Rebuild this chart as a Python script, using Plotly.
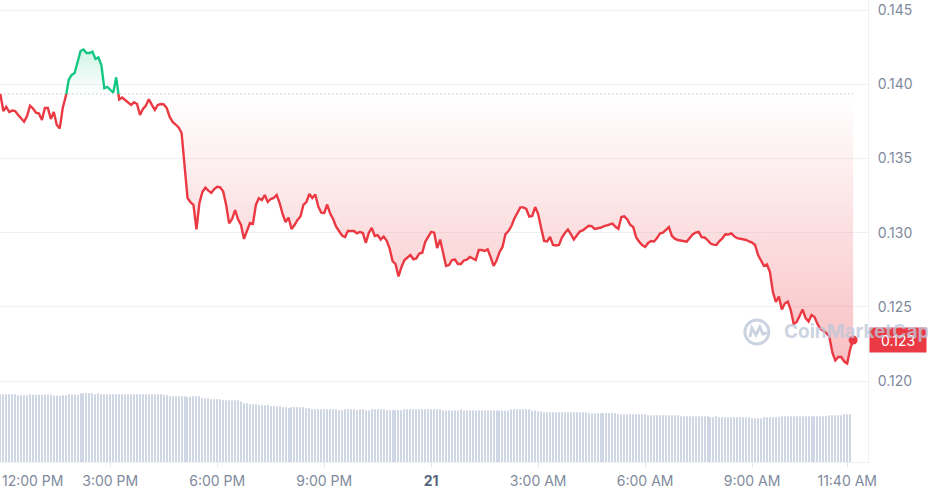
import pandas as pd
import plotly.graph_objects as go

# Price every 5 minutes
price = [
    0.13935, 0.13820, 0.13847, 0.13813, 0.13823, 0.13820, 0.13793, 0.13770, 0.13748, 0.13786,
    0.13856, 0.13837, 0.13809, 0.13803, 0.13759, 0.13840, 0.13840, 0.13766, 0.13813, 0.13726,
    0.13703, 0.13840, 0.13908, 0.14029, 0.14063, 0.14076, 0.14150, 0.14224, 0.14235, 0.14211,
    0.14211, 0.14220, 0.14171, 0.14181, 0.14130, 0.13973, 0.13982, 0.13962, 0.13943, 0.14047,
    0.13898, 0.13911, 0.13894, 0.13881, 0.13861, 0.13879, 0.13867, 0.13793, 0.13834, 0.13857,
    0.13899, 0.13861, 0.13827, 0.13861, 0.13867, 0.13864, 0.13840, 0.13780, 0.13746, 0.13729,
    0.13709, 0.13672, 0.13456, 0.13234, 0.13205, 0.13187, 0.13023, 0.13200, 0.13274, 0.13303,
    0.13283, 0.13268, 0.13294, 0.13310, 0.13306, 0.13278, 0.13187, 0.13063, 0.13092, 0.13153,
    0.13090, 0.13052, 0.12958, 0.13007, 0.13065, 0.13059, 0.13187, 0.13232, 0.13220, 0.13254,
    0.13207, 0.13227, 0.13234, 0.13254, 0.13200, 0.13126, 0.13072, 0.13102, 0.13025, 0.13052,
    0.13086, 0.13109, 0.13187, 0.13207, 0.13261, 0.13234, 0.13257, 0.13177, 0.13135, 0.13133,
    0.13190, 0.13129, 0.13092, 0.13040, 0.13007, 0.12981, 0.12971, 0.13013, 0.13011, 0.13011,
    0.12996, 0.13005, 0.12998, 0.12931, 0.12998, 0.13032, 0.12978, 0.12984, 0.12954, 0.12974,
    0.12947, 0.12894, 0.12809, 0.12789, 0.12705, 0.12769, 0.12816, 0.12836, 0.12850, 0.12821,
    0.12827, 0.12860, 0.12865, 0.12939, 0.12974, 0.13005, 0.13000, 0.12897, 0.12954, 0.12863,
    0.12776, 0.12782, 0.12816, 0.12819, 0.12789, 0.12789, 0.12813, 0.12819, 0.12836, 0.12826,
    0.12816, 0.12883, 0.12883, 0.12877, 0.12888, 0.12836, 0.12776, 0.12813, 0.12870, 0.12904,
    0.12991, 0.13011, 0.13045, 0.13096, 0.13129, 0.13171, 0.13171, 0.13160, 0.13108, 0.13113,
    0.13173, 0.13126, 0.13032, 0.12945, 0.12941, 0.12971, 0.12917, 0.12914, 0.12917, 0.12968,
    0.12998, 0.13022, 0.12991, 0.12954, 0.12981, 0.13008, 0.13016, 0.13030, 0.13047, 0.13045,
    0.13026, 0.13030, 0.13033, 0.13042, 0.13050, 0.13055, 0.13062, 0.13040, 0.13026, 0.13106,
    0.13110, 0.13089, 0.13052, 0.13038, 0.12968, 0.12939, 0.12917, 0.12904, 0.12931, 0.12944,
    0.12941, 0.12964, 0.12995, 0.13001, 0.13022, 0.13038, 0.12978, 0.12960, 0.12951, 0.12949,
    0.12946, 0.12940, 0.12964, 0.12988, 0.13001, 0.13005, 0.12970, 0.12968, 0.12951, 0.12927,
    0.12920, 0.12917, 0.12944, 0.12961, 0.12989, 0.12988, 0.12995, 0.12975, 0.12963, 0.12960,
    0.12958, 0.12951, 0.12941, 0.12933, 0.12917, 0.12850, 0.12813, 0.12776, 0.12786, 0.12735,
    0.12600, 0.12533, 0.12570, 0.12482, 0.12523, 0.12536, 0.12479, 0.12385, 0.12398, 0.12445,
    0.12482, 0.12425, 0.12402, 0.12445, 0.12432, 0.12385, 0.12351, 0.12338, 0.12324, 0.12299,
    0.12193, 0.12139, 0.12162, 0.12162, 0.12132, 0.12119, 0.12216, 0.12277,
]

# Volume bars (relative units, same 5 minute steps)
volume = [
    67.7, 67.7, 67.7, 67.7, 67.7, 67.7, 66.7, 66.7, 66.7, 66.7,
    67.7, 67.0, 67.0, 67.0, 67.0, 67.0, 67.0, 67.0, 66.0, 66.0,
    66.0, 66.7, 66.7, 67.7, 67.0, 67.0, 67.0, 68.7, 68.7, 68.7,
    68.7, 68.7, 67.7, 68.7, 67.7, 67.7, 67.7, 67.7, 67.7, 67.7,
    67.7, 67.7, 67.7, 67.7, 67.7, 67.7, 67.7, 67.7, 67.7, 67.7,
    67.7, 67.7, 67.7, 67.7, 67.7, 67.2, 66.7, 65.7, 65.7, 65.7,
    65.7, 65.7, 65.7, 64.7, 64.7, 65.7, 65.7, 65.7, 63.7, 63.7,
    63.7, 62.7, 62.7, 62.7, 62.7, 61.7, 61.7, 61.7, 61.7, 61.7,
    61.7, 60.3, 58.7, 58.7, 57.7, 57.7, 57.7, 56.7, 56.7, 56.7,
    56.7, 55.7, 55.7, 55.7, 55.7, 54.7, 54.7, 53.7, 54.7, 54.7,
    54.7, 54.7, 54.7, 53.7, 53.7, 52.7, 52.7, 52.7, 52.7, 52.7,
    52.7, 52.7, 52.7, 52.7, 51.7, 51.7, 52.7, 52.7, 52.7, 52.7,
    51.7, 52.7, 52.7, 51.7, 51.7, 52.7, 52.7, 52.7, 52.7, 52.7,
    51.7, 51.7, 51.7, 51.7, 51.7, 51.7, 52.7, 52.7, 52.7, 52.7,
    52.7, 52.7, 52.7, 52.7, 52.7, 52.7, 52.7, 52.7, 52.7, 51.3,
    51.3, 51.3, 51.3, 51.3, 51.3, 52.7, 51.3, 51.3, 51.3, 51.3,
    51.3, 51.3, 51.3, 51.3, 51.3, 51.3, 51.3, 51.3, 51.3, 51.3,
    51.3, 51.3, 52.7, 52.7, 52.7, 52.7, 52.7, 52.7, 52.7, 51.3,
    51.3, 50.3, 50.3, 49.7, 49.7, 49.7, 49.7, 49.7, 49.7, 49.7,
    49.7, 49.7, 49.7, 49.7, 49.7, 49.7, 49.7, 49.7, 48.7, 48.7,
    48.7, 48.7, 48.7, 48.7, 48.7, 48.7, 48.7, 48.7, 47.7, 47.7,
    47.7, 47.7, 47.7, 47.7, 47.7, 47.7, 47.7, 47.7, 46.7, 46.7,
    46.7, 46.7, 46.7, 46.7, 46.7, 46.7, 46.7, 46.7, 46.7, 45.7,
    45.7, 45.7, 45.7, 45.7, 45.7, 45.7, 45.7, 45.7, 45.7, 44.7,
    44.7, 45.7, 44.7, 44.7, 44.7, 44.7, 44.7, 44.7, 44.7, 44.7,
    44.7, 44.7, 44.7, 43.7, 43.7, 43.7, 43.7, 44.7, 44.7, 44.7,
    44.7, 44.7, 44.7, 45.7, 45.7, 45.7, 45.7, 45.7, 45.7, 45.7,
    45.7, 45.7, 45.7, 45.7, 45.7, 45.7, 45.7, 45.7, 45.7, 46.7,
    46.7, 46.7, 46.7, 46.7, 47.7, 47.7, 47.7,
]

# Axis ticks
x_tick_times = ["2024-05-20 15:00", "2024-05-20 18:00", "2024-05-20 21:00", "2024-05-21 00:00",
                "2024-05-21 03:00", "2024-05-21 06:00", "2024-05-21 09:00", "2024-05-21 11:40"]
x_tick_text = ["3:00 PM", "6:00 PM", "9:00 PM", "<span style='color:#58667e'><b>21</b></span>",
               "3:00 AM", "6:00 AM", "9:00 AM", "11:40 AM"]
first_tick_text = "12:00 PM"
y_ticks = [0.120, 0.125, 0.130, 0.135, 0.140, 0.145]

RED = "#ea3943"
GREEN = "#16c784"
GREY = "#808a9d"
MARK = "rgba(190,200,218,0.8)"
FONT = "Inter, Noto Sans, sans-serif"

times = pd.date_range("2024-05-20 11:55", periods=len(price), freq="5min")
base = price[0]


# Insert points where the line crosses the opening price
def split_at_base(ts, ps, level):
    out_t, out_p = [ts[0]], [ps[0]]
    for k in range(1, len(ps)):
        a, b = ps[k - 1], ps[k]
        if (a - level) * (b - level) < 0:
            f = (level - a) / (b - a)
            out_t.append(ts[k - 1] + (ts[k] - ts[k - 1]) * f)
            out_p.append(level)
        out_t.append(ts[k])
        out_p.append(b)
    return out_t, out_p


ts, ps = split_at_base(list(times), price, base)
below = [min(p, base) for p in ps]
above = [max(p, base) for p in ps]
red_line = [p if p <= base else None for p in ps]
green_line = [p if p >= base else None for p in ps]
flat = [base for _ in ps]

fig = go.Figure()

# Volume bars on a hidden axis
fig.add_trace(go.Bar(x=times, y=volume, yaxis="y2", width=110000,
                     marker=dict(color="#cfd6e4", line_width=0), hoverinfo="skip"))

# Red area below the opening price
fig.add_trace(go.Scatter(x=ts, y=flat, mode="lines", line=dict(width=0), hoverinfo="skip"))
fig.add_trace(go.Scatter(x=ts, y=below, mode="lines", line=dict(width=0), fill="tonexty",
                         fillgradient=dict(type="vertical", start=min(price), stop=base,
                                           colorscale=[[0, "rgba(234,57,67,0.32)"],
                                                       [1, "rgba(234,57,67,0.0)"]]),
                         hoverinfo="skip"))

# Green area above the opening price
fig.add_trace(go.Scatter(x=ts, y=flat, mode="lines", line=dict(width=0), hoverinfo="skip"))
fig.add_trace(go.Scatter(x=ts, y=above, mode="lines", line=dict(width=0), fill="tonexty",
                         fillgradient=dict(type="vertical", start=base, stop=max(price),
                                           colorscale=[[0, "rgba(22,199,132,0.0)"],
                                                       [1, "rgba(22,199,132,0.20)"]]),
                         hoverinfo="skip"))

# Dotted opening price
fig.add_trace(go.Scatter(x=[times[0], times[-1]], y=[base, base], mode="lines",
                         line=dict(color="#a1a7bb", width=1, dash="1px,3px"), hoverinfo="skip"))

# Price line
fig.add_trace(go.Scatter(x=ts, y=red_line, mode="lines", line=dict(color=RED, width=2.4)))
fig.add_trace(go.Scatter(x=ts, y=green_line, mode="lines", line=dict(color=GREEN, width=2.4)))
fig.add_trace(go.Scatter(x=[times[-1]], y=[price[-1]], mode="markers",
                         marker=dict(color=RED, size=9)))

# Range
x_start = times[0] - pd.Timedelta(seconds=33)
x_end = times[-1] + pd.Timedelta(minutes=25)

fig.update_layout(
    width=928, height=495,
    margin=dict(l=0, r=60, t=0, b=33),
    paper_bgcolor="white", plot_bgcolor="white",
    showlegend=False,
    font=dict(family=FONT, size=14, color=GREY),
    xaxis=dict(range=[x_start, x_end], tickvals=x_tick_times, ticktext=x_tick_text,
               showgrid=False, showline=True, linecolor="#eff2f5", linewidth=1,
               ticks="outside", ticklen=4, tickcolor="#e3e6ec", ticklabelstandoff=2,
               tickfont=dict(size=14, color=GREY), zeroline=False),
    yaxis=dict(side="right", range=[0.11455, 0.14568], tickvals=y_ticks, tickformat=".3f",
               showgrid=True, gridcolor="#eff2f5", gridwidth=1, zeroline=False,
               showline=True, linecolor="#eff2f5", ticks="", ticklabelstandoff=6,
               tickfont=dict(size=14, color=GREY)),
    yaxis2=dict(overlaying="y", range=[0, max(volume) / 0.149], visible=False),
)

# First time label sits against the left edge
fig.add_annotation(x=0, y=0, xref="paper", yref="paper", text=first_tick_text, showarrow=False,
                   xanchor="left", yanchor="middle", yshift=-18,
                   font=dict(size=14, color=GREY))

# Last price tag
fig.add_annotation(x=1, y=price[-1], xref="paper", yref="y", text=f"{price[-1]:.3f}",
                   showarrow=False, xanchor="left", yanchor="middle", xshift=1,
                   width=54, height=22, bgcolor=RED, borderpad=1,
                   font=dict(size=14, color="white", family=FONT))

# Watermark, drawn over the price tag
fig.add_annotation(x=1, y=0.2814, xref="paper", yref="paper", text="<b>CoinMarketCap</b>",
                   showarrow=False, xanchor="left", yanchor="middle", xshift=-86,
                   font=dict(size=19, color=MARK, family=FONT))
fig.add_shape(type="circle", xref="paper", yref="paper", xsizemode="pixel", ysizemode="pixel",
              xanchor=0.872, yanchor=0.2814, x0=-12, x1=12, y0=-12, y1=12,
              line=dict(color=MARK, width=3))
fig.add_shape(type="path", xref="paper", yref="paper", xsizemode="pixel", ysizemode="pixel",
              xanchor=0.872, yanchor=0.2814,
              path="M -7,-5 L -5,4 L -1,-3 L 3,5 L 6,-2 L 10,-1",
              line=dict(color=MARK, width=3))

# Page has a default body margin, drop it so the chart starts at the corner
fig.write_html("out.html", config={"displayModeBar": False},
               post_script="document.body.style.margin = '0';")
